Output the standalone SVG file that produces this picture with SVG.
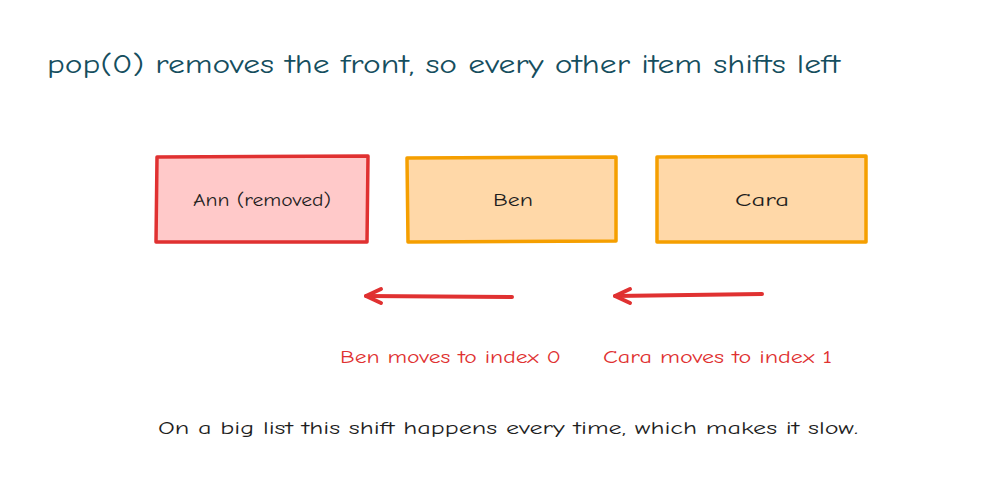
<svg xmlns="http://www.w3.org/2000/svg" width="1000" height="491" viewBox="0 0 1000 491">
<style>
text{font-family:"Comic Neue","Liberation Sans","DejaVu Sans",sans-serif;}
.title{font-size:26px;fill:#154e5e;}
.lbl{font-size:18px;fill:#1e1e1e;text-anchor:middle;}
.red{font-size:18px;fill:#e03131;}
.note{font-size:18px;fill:#1e1e1e;}
.bxr{fill:#ffc9c9;stroke:#e03131;stroke-width:3.5;stroke-linejoin:round;}
.bxo{fill:#ffd8a8;stroke:#f59f00;stroke-width:3.5;stroke-linejoin:round;}
.arr{fill:none;stroke:#e03131;stroke-width:4;stroke-linecap:round;stroke-linejoin:round;}
</style>
<rect width="1000" height="491" fill="#ffffff"/>
<text class="title" x="47" y="73" textLength="793" lengthAdjust="spacingAndGlyphs">pop(0) removes the front, so every other item shifts left</text>
<g id="node-ann">
<path class="bxr" d="M157,157 L368,156 L367,242 L156,242 Z"/>
<text class="lbl" x="262" y="206" textLength="138" lengthAdjust="spacingAndGlyphs">Ann (removed)</text>
</g>
<g id="node-ben">
<path class="bxo" d="M407,158 L616,157 L616,241 L408,242 Z"/>
<text class="lbl" x="513" y="206" textLength="40" lengthAdjust="spacingAndGlyphs">Ben</text>
</g>
<g id="node-cara">
<path class="bxo" d="M657,157 L866,156 L866,242 L657,242 Z"/>
<text class="lbl" x="762" y="206" textLength="54" lengthAdjust="spacingAndGlyphs">Cara</text>
</g>
<g id="connectors">
<path class="arr" d="M512,297 L366,296"/>
<path class="arr" d="M381,289 L366,296 L381,303"/>
<path class="arr" d="M762,294 L615,296"/>
<path class="arr" d="M630,289 L615,296 L630,303"/>
</g>
<text class="red" x="340" y="363" textLength="221" lengthAdjust="spacingAndGlyphs">Ben moves to index 0</text>
<text class="red" x="603" y="363" textLength="229" lengthAdjust="spacingAndGlyphs">Cara moves to index 1</text>
<text class="note" x="158" y="434" textLength="700" lengthAdjust="spacingAndGlyphs">On a big list this shift happens every time, which makes it slow.</text>
</svg>
